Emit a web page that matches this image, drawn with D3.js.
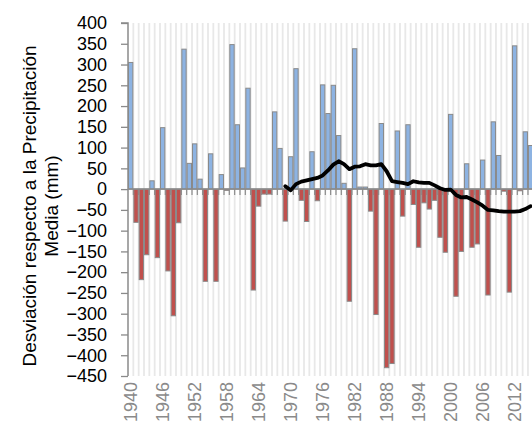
<!DOCTYPE html>
<html><head><meta charset="utf-8">
<script src="https://cdn.jsdelivr.net/npm/d3@7"></script>
<style>html,body{margin:0;padding:0;background:#fff;overflow:hidden}</style>
</head><body><svg id="c" width="532" height="425"></svg>
<script>
const years = [1940,1941,1942,1943,1944,1945,1946,1947,1948,1949,1950,1951,1952,1953,1954,1955,1956,1957,1958,1959,
1960,1961,1962,1963,1964,1965,1966,1967,1968,1969,1970,1971,1972,1973,1974,1975,1976,1977,1978,1979,
1980,1981,1982,1983,1984,1985,1986,1987,1988,1989,1990,1991,1992,1993,1994,1995,1996,1997,1998,1999,
2000,2001,2002,2003,2004,2005,2006,2007,2008,2009,2010,2011,2012,2013,2014,2015];
const deviation = [305,-80,-218,-158,20,-165,148,-197,-305,-81,337,62,109,24,-222,85,-222,35,-3,348,
155,51,243,-243,-41,-12,-12,186,98,-77,78,290,-27,-78,90,-28,251,182,250,129,
14,-270,338,5,5,-53,-302,158,-430,-420,140,-65,155,-37,-140,-33,-48,-27,-116,-152,
180,-258,-150,61,-140,-132,70,-255,162,81,-5,-248,345,-4,138,105];
const movingAvg = [null,null,null,null,null,null,null,null,null,null,null,null,null,null,null,null,null,null,null,null,
null,null,null,null,null,null,null,null,null,7,-3,12,18,21,24,27,33,45,59,67,
60,48,54,55,60,57,57,60,43,19,17,15,12,19,16,15,15,9,2,-2,
-1,-14,-20,-19,-25,-32,-40,-50,-51,-53,-54,-54,-54,-53,-48,-41];
const yTicks = [400,350,300,250,200,150,100,50,0,-50,-100,-150,-200,-250,-300,-350,-400,-450];
const xLabels = [1940,1946,1952,1958,1964,1970,1976,1982,1988,1994,2000,2006,2012];
const yTitle = ["Desviación respecto a la Precipitación","Media (mm)"];

const svg = d3.select("#c");
const font = "'Liberation Sans', Arial, sans-serif";
const left = 128, bw = 5.333;
const x = d3.scaleBand().domain(years).range([left, left + years.length*bw]).padding(0);
const y = d3.scaleLinear().domain([-450,400]).range([376,23]);
svg.append("rect").attr("width",532).attr("height",425).attr("fill","#fff");

// vertical gridlines
svg.append("g").selectAll("line").data(years).join("line")
  .attr("x1",d=>x(d)+bw).attr("x2",d=>x(d)+bw)
  .attr("y1",y(400)).attr("y2",y(-450))
  .attr("stroke","#e8e8e8").attr("stroke-width",1.8);

// category tick marks below zero
svg.append("g").selectAll("line").data(years).join("line")
  .attr("x1",d=>x(d)+bw).attr("x2",d=>x(d)+bw)
  .attr("y1",y(0)).attr("y2",y(0)+6)
  .attr("stroke","#8c8c8c").attr("stroke-width",1.2);

// bars
svg.append("g").selectAll("rect").data(years).join("rect")
  .attr("x",d=>x(d)+0.5)
  .attr("width",x.bandwidth()-1)
  .attr("y",(d,i)=>Math.min(y(deviation[i]),y(0)))
  .attr("height",(d,i)=>Math.abs(y(deviation[i])-y(0)))
  .attr("fill",(d,i)=>deviation[i]>=0?"#8db3e2":"#c0504d")
  .attr("stroke","#8a8a8a").attr("stroke-width",1);

// zero line
svg.append("line").attr("x1",left).attr("x2",532).attr("y1",y(0)).attr("y2",y(0))
  .attr("stroke","#8a8a8a").attr("stroke-width",1.5);

// y axis
const ya = svg.append("g").attr("transform",`translate(${left},0)`)
  .call(d3.axisLeft(y).tickValues(yTicks).tickSize(7).tickPadding(14));
ya.select(".domain").attr("stroke","#8a8a8a").attr("stroke-width",1.5).attr("d",`M-7,${y(400)}H0V${y(-450)}`);
ya.selectAll(".tick line").attr("stroke","#8a8a8a").attr("stroke-width",1.3);
ya.selectAll("text").attr("font-family",font).attr("font-size",18).attr("fill","#000");

// x labels
svg.append("g").selectAll("text").data(xLabels).join("text")
  .attr("transform",d=>`translate(${x(d)+bw/2},382) rotate(-90)`)
  .attr("text-anchor","end").attr("dominant-baseline","central")
  .attr("font-family",font).attr("font-size",18).attr("fill","#8a8a8a")
  .text(d=>d);

// moving average line
const line = d3.line().defined(d=>d!=null)
  .x((d,i)=>x(years[i])+bw/2).y(d=>y(d)).curve(d3.curveLinear);
svg.append("path").datum(movingAvg).attr("d",line)
  .attr("fill","none").attr("stroke","#000").attr("stroke-width",3.8)
  .attr("stroke-linejoin","round").attr("stroke-linecap","round");

// y title
svg.append("g").selectAll("text").data(yTitle).join("text")
  .attr("transform",(d,i)=>`translate(${29.5+i*21.5},206) rotate(-90)`)
  .attr("text-anchor","middle").attr("dominant-baseline","central")
  .attr("font-family",font).attr("font-size",19).attr("fill","#000")
  .text(d=>d);
</script></body></html>
